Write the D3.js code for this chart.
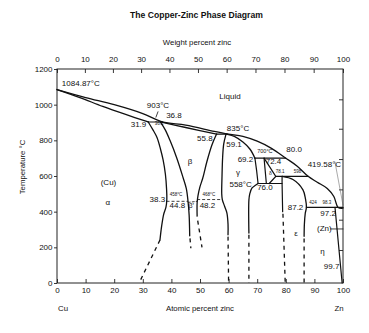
<!DOCTYPE html>
<html>
<head>
<meta charset="utf-8">
<script src="https://cdnjs.cloudflare.com/ajax/libs/d3/7.8.5/d3.min.js"></script>
<style>
  body { margin: 0; background: #fff; }
  svg text { font-family: "Liberation Sans", Arial, Helvetica, sans-serif; fill: #111; }
</style>
</head>
<body>
<svg id="chart" width="369" height="333"></svg>
<script>
// ---- axis ticks ----
const atomicTicks = [0, 10, 20, 30, 40, 50, 60, 70, 80, 90, 100];
const weightTicks = [0, 10, 20, 30, 40, 50, 60, 70, 80, 90, 100];
const tempTicks = [0, 200, 400, 600, 800, 1000, 1200];
const rightTicks = [1030, 865, 695, 525, 355, 185];

// ---- phase boundaries: [atomic % Zn, temperature °C] ----
const liquidus = [[0, 1084.87], [10, 1040], [20, 1000], [30, 950], [36.8, 903], [45, 885], [55, 850], [59.8, 835],
  [65, 822], [70, 795], [75, 755], [80, 700], [84, 655], [87.8, 598], [91, 565], [94.5, 530], [96.8, 485],
  [98.3, 424], [100, 419.58]];
const alphaSolidus = [[0, 1084.87], [8, 1040], [16, 990], [24, 945], [31.9, 903]];
const betaSolidus = [[36.1, 903], [45, 872], [55.8, 835]];
const gammaSolidus = [[59.1, 835], [62, 822], [65, 790], [67.5, 750], [69.2, 700]];
const alphaSolvus = [[31.9, 903], [33.5, 860], [35, 815], [36.2, 750], [37.1, 690], [37.9, 610], [38.3, 530],
  [38.4, 470], [38.1, 425], [37.3, 385], [36.6, 320], [36, 241]];
const alphaSolvusLow = [[36, 241], [28.7, 0]];
const betaLeft = [[36.1, 903], [37.8, 860], [39.5, 800], [41.9, 700], [44.1, 590], [45.2, 530], [45.8, 460],
  [46.2, 381], [46.4, 265]];
const betaLeftLow = [[46.5, 250], [46.8, 195]];
const betaRight = [[55.8, 835], [54.2, 775], [52.4, 680], [51, 590], [50, 540], [49.3, 490], [49.0, 450], [49.0, 375]];
const betaRightLow = [[49.2, 350], [50.7, 200]];
const gammaLeft = [[59.1, 835], [58.3, 780], [57.9, 700], [57.7, 600], [57.6, 500], [57.8, 468], [58.6, 430],
  [59.4, 393], [59.8, 330], [59.8, 270]];
const gammaLeftLow = [[59.8, 260], [60, 0]];
const gammaRight = [[69.2, 700], [69.8, 630], [70.3, 558]];
const gammaRightLow = [[70.3, 558], [69.4, 548], [68.2, 533], [67.4, 500], [67.1, 465], [67.1, 280]];
const gammaRightLowDash = [[67.1, 270], [67.1, 0]];
const deltaLeft = [[72.4, 700], [73.2, 558]];
const deltaRight = [[72.4, 700], [76.5, 598], [74.2, 558]];
const epsLeft = [[78.7, 598], [78.7, 558], [78.9, 400]];
const epsLeftLow = [[79.0, 388], [79.8, 0]];
const epsRight = [[78.7, 598], [82.5, 580], [86, 522], [86.9, 470], [87.2, 424], [86.8, 390], [86.5, 330], [86.4, 262]];
const epsRightLow = [[86.4, 250], [86.4, 0]];
const etaSolvus = [[97.2, 424], [99.7, 0]];

// ---- invariant reactions and ordering temperatures ----
const isoTemps = [903, 835, 700, 598, 558, 424];
const isoFrom = [31.9, 55.8, 69.2, 76.5, 70.3, 87.2];
const isoTo = [36.8, 59.8, 80.0, 87.8, 78.7, 100];
const orderTemps = [458, 468];
const orderFrom = [38.3, 49.0];
const orderTo = [45.8, 57.8];
const betaPrimeOrder = [[45.9, 452], [48.9, 458]];

// ---- leader lines ----
const leaders = [
  [[35.3, 960], [34.6, 930]],
  [[97.2, 678], [100, 437]],
  [[95.6, 303], [100, 303]]
];

// ---- annotations: text, atomic %, temperature, size, anchor ----
const notes = [
  ["1084.87°C", 1.7, 1116, 8, "start"],
  ["903°C", 35.3, 998, 8, "middle"],
  ["36.8", 40.9, 937, 8, "middle"],
  ["31.9", 28.5, 886, 8, "middle"],
  ["36.1", 35.7, 895, 4.5, "middle"],
  ["Liquid", 60.5, 1043, 8, "middle"],
  ["835°C", 63.3, 869, 8, "middle"],
  ["55.8", 51.7, 808, 8, "middle"],
  ["59.1", 61.9, 774, 8, "middle"],
  ["β", 46.5, 684, 8, "middle"],
  ["700°C", 72.7, 740, 5.5, "middle"],
  ["80.0", 82.9, 746, 8, "middle"],
  ["69.2", 65.9, 690, 8, "middle"],
  ["72.4", 75.7, 684, 8, "middle"],
  ["419.58°C", 93.5, 662, 8, "middle"],
  ["γ", 63.3, 617, 8, "middle"],
  ["558°C", 64.2, 550, 8, "middle"],
  ["76.0", 72.7, 533, 8, "middle"],
  ["78.1", 78.0, 623, 4.5, "middle"],
  ["598", 84.1, 623, 4.5, "middle"],
  ["δ", 74.6, 615, 5, "middle"],
  ["(Cu)", 18.0, 561, 8, "middle"],
  ["α", 17.8, 449, 8, "middle"],
  ["38.3", 35.1, 471, 8, "middle"],
  ["458°C", 41.6, 494, 4.5, "middle"],
  ["44.8", 42.1, 432, 8, "middle"],
  ["β′", 46.9, 432, 7, "middle"],
  ["468°C", 53.1, 499, 4.5, "middle"],
  ["48.2", 52.6, 437, 8, "middle"],
  ["ε", 83.6, 280, 8, "middle"],
  ["87.2", 83.4, 426, 8, "middle"],
  ["424", 89.5, 449, 4.5, "middle"],
  ["98.3", 94.4, 449, 4.5, "middle"],
  ["97.2", 94.8, 387, 8, "middle"],
  ["(Zn)", 93.5, 303, 8, "middle"],
  ["η", 92.8, 179, 8, "middle"],
  ["99.7", 96.0, 90, 8, "middle"]
];

// weight % Zn -> atomic % Zn
const M_CU = 63.546, M_ZN = 65.38;
const wtToAt = w => { const z = w / M_ZN, c = (100 - w) / M_CU; return 100 * z / (z + c); };

const svg = d3.select("#chart");
const x = d3.scaleLinear().domain([0, 100]).range([57, 343]);
const y = d3.scaleLinear().domain([0, 1200]).range([283, 69]);

// titles
svg.append("text").attr("x", 196.5).attr("y", 18).attr("text-anchor", "middle")
  .attr("font-size", 8.6).attr("font-weight", "bold").text("The Copper-Zinc Phase Diagram");
svg.append("text").attr("x", 197).attr("y", 45).attr("text-anchor", "middle")
  .attr("font-size", 7.8).text("Weight percent zinc");
svg.append("text").attr("x", 200).attr("y", 311).attr("text-anchor", "middle")
  .attr("font-size", 7.8).text("Atomic percent zinc");
svg.append("text").attr("x", 63).attr("y", 311).attr("text-anchor", "middle")
  .attr("font-size", 7.8).text("Cu");
svg.append("text").attr("x", 339).attr("y", 311).attr("text-anchor", "middle")
  .attr("font-size", 7.8).text("Zn");
svg.append("text").attr("transform", "translate(25,167) rotate(-90)").attr("text-anchor", "middle")
  .attr("font-size", 7.8).text("Temperature °C");

// axes
function styleAxis(g) {
  g.select(".domain").remove();
  g.selectAll(".tick line").attr("stroke", "#222").attr("stroke-width", 0.9);
  g.selectAll(".tick text").attr("font-size", 8).attr("fill", "#111")
    .attr("font-family", "Liberation Sans, Arial, sans-serif");
}
svg.append("g").attr("transform", "translate(0,283)")
  .call(d3.axisBottom(x).tickValues(atomicTicks).tickSize(-4).tickPadding(4).tickFormat(d3.format("d")))
  .call(styleAxis);
svg.append("g").attr("transform", "translate(0,69)")
  .call(d3.axisTop(x).tickValues(weightTicks.map(wtToAt)).tickSize(-4).tickPadding(7)
    .tickFormat((d, i) => weightTicks[i]))
  .call(styleAxis);
svg.append("g").attr("transform", "translate(57,0)")
  .call(d3.axisLeft(y).tickValues(tempTicks).tickSize(3).tickPadding(1.5).tickFormat(d3.format("d")))
  .call(styleAxis);
svg.append("g").attr("transform", "translate(343,0)")
  .call(d3.axisRight(y).tickValues(rightTicks).tickSize(-4).tickFormat(""))
  .call(styleAxis);

// frame
svg.append("rect").attr("x", x(0)).attr("y", y(1200)).attr("width", x(100) - x(0)).attr("height", y(0) - y(1200))
  .attr("fill", "none").attr("stroke", "#222").attr("stroke-width", 1);

// boundaries
const smooth = d3.line().x(d => x(d[0])).y(d => y(d[1])).curve(d3.curveCatmullRom.alpha(0.5));
const straight = d3.line().x(d => x(d[0])).y(d => y(d[1]));
const curves = svg.append("g").attr("fill", "none").attr("stroke", "#111").attr("stroke-linecap", "round");

[liquidus, alphaSolidus, betaSolidus, gammaSolidus, alphaSolvus, betaLeft, betaRight, gammaLeft,
  gammaRightLow, epsRight].forEach(p => curves.append("path").attr("d", smooth(p)).attr("stroke-width", 1.3));
[gammaRight, deltaLeft, deltaRight, epsLeft, etaSolvus].forEach(p =>
  curves.append("path").attr("d", straight(p)).attr("stroke-width", 1.2));
[alphaSolvusLow, betaLeftLow, betaRightLow, gammaLeftLow, gammaRightLowDash, epsLeftLow, epsRightLow].forEach(p =>
  curves.append("path").attr("d", straight(p)).attr("stroke-width", 1.3).attr("stroke-dasharray", "4,4").attr("stroke-linecap", "butt"));

// isotherms
isoTemps.forEach((t, i) => curves.append("path")
  .attr("d", straight([[isoFrom[i], t], [isoTo[i], t]])).attr("stroke-width", 1.1));
orderTemps.forEach((t, i) => curves.append("path")
  .attr("d", straight([[orderFrom[i], t], [orderTo[i], t]])).attr("stroke-width", 0.8)
  .attr("stroke-dasharray", "3,2").attr("stroke-linecap", "butt"));
curves.append("path").attr("d", straight(betaPrimeOrder)).attr("stroke-width", 0.8).attr("stroke-dasharray", "2,2");

// leaders
leaders.forEach((p, i) => curves.append("path").attr("d", straight(p))
  .attr("stroke-width", i === 1 ? 0.5 : 0.8).attr("stroke", i === 1 ? "#555" : "#111"));

// annotations
svg.append("g").selectAll("text").data(notes).join("text")
  .attr("x", d => x(d[1])).attr("y", d => y(d[2]))
  .attr("font-size", d => d[3]).attr("text-anchor", d => d[4])
  .attr("dominant-baseline", "central")
  .text(d => d[0]);
</script>
</body>
</html>
